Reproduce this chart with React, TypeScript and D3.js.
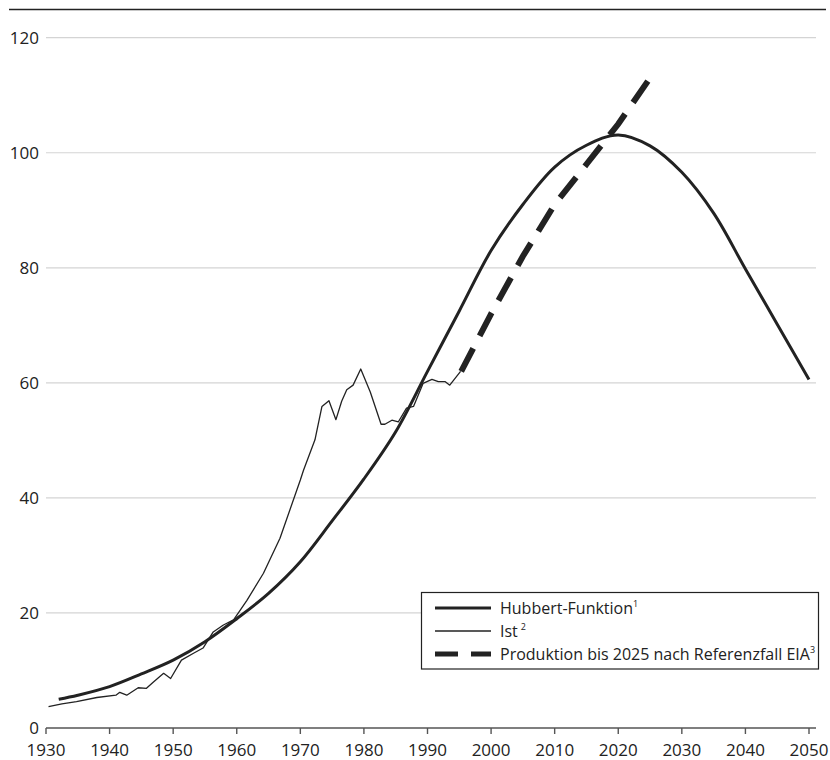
import { useMemo } from "react";
import * as d3 from "d3";

const WIDTH = 830;
const HEIGHT = 760;
const FONT = "'Open Sans', 'Noto Sans', sans-serif";

// Hubbert-Funktion (thick solid line)
const hubbertYears = [1932, 1935, 1940, 1945, 1950, 1955, 1960, 1965, 1970, 1975, 1980, 1985, 1990, 1995, 2000, 2005, 2010, 2015, 2020, 2025, 2030, 2035, 2040, 2045, 2050];
const hubbertValues = [5.0, 5.7, 7.2, 9.4, 11.8, 15.0, 19.0, 23.4, 28.9, 36.0, 43.3, 51.5, 62.0, 72.5, 83.0, 91.0, 97.5, 101.3, 103.1, 101.2, 96.6, 89.5, 79.8, 70.2, 60.6];

// Ist (thin line, actual production)
const istYears = [1930.4, 1932.5, 1934.8, 1938, 1941, 1941.6, 1942.7, 1944.5, 1945.8, 1946.9, 1948.5, 1949.6, 1951.3, 1953.2, 1954.7, 1956.3, 1957.9, 1959.5, 1961.6, 1964.2, 1966.8, 1970, 1970.5, 1972.3, 1973.4, 1974.5, 1975.6, 1976.5, 1977.3, 1978.3, 1979.5, 1981, 1982.7, 1983.3, 1984.4, 1985.4, 1986.7, 1987.8, 1989.3, 1990.7, 1991.7, 1992.8, 1993.5, 1995.2];
const istValues = [3.7, 4.2, 4.6, 5.3, 5.7, 6.2, 5.7, 7.0, 6.9, 8.0, 9.5, 8.6, 11.8, 13.0, 13.9, 16.7, 17.9, 18.8, 22.2, 26.9, 33.0, 43.1, 44.8, 50.1, 55.9, 56.9, 53.6, 56.8, 58.8, 59.6, 62.4, 58.4, 52.8, 52.8, 53.5, 53.2, 55.6, 55.9, 59.9, 60.6, 60.2, 60.2, 59.6, 62.0];

// Produktion bis 2025 nach Referenzfall EIA (thick dashed line)
const eiaYears = [1995.3, 2000, 2005, 2010, 2015, 2020, 2025];
const eiaValues = [62.0, 72.0, 82.0, 91.0, 98.0, 105.0, 113.0];

const yTicks = [0, 20, 40, 60, 80, 100, 120];
const xTicks = [1930, 1940, 1950, 1960, 1970, 1980, 1990, 2000, 2010, 2020, 2030, 2040, 2050];

const toPoints = (xs: number[], ys: number[]) => xs.map((x, i) => [x, ys[i]] as [number, number]);

export default function App() {
  const xScale = useMemo(() => d3.scaleLinear().domain([1930, 2050]).range([46, 809]), []);
  const yScale = useMemo(() => d3.scaleLinear().domain([0, 120]).range([728, 37.7]), []);

  const line = d3
    .line<[number, number]>()
    .x((d) => xScale(d[0]))
    .y((d) => yScale(d[1]));

  const smooth = d3
    .line<[number, number]>()
    .x((d) => xScale(d[0]))
    .y((d) => yScale(d[1]))
    .curve(d3.curveCatmullRom.alpha(0.5));

  const hubbertPath = smooth(toPoints(hubbertYears, hubbertValues)) || "";
  const istPath = line(toPoints(istYears, istValues)) || "";
  const eiaPath = line(toPoints(eiaYears, eiaValues)) || "";

  const [x0, x1] = [46, 816];

  return (
    <div style={{ position: "absolute", left: 0, top: 0 }}>
      <svg width={WIDTH} height={HEIGHT} style={{ display: "block", background: "#fff" }} fontFamily={FONT}>
        {/* top rule */}
        <line x1={9} x2={826} y1={9.5} y2={9.5} stroke="#222" strokeWidth={1.6} />

        {/* grid + y labels */}
        {yTicks.map((t) => (
          <g key={t}>
            {t > 0 && <line x1={x0} x2={x1} y1={yScale(t)} y2={yScale(t)} stroke="#d4d4d4" strokeWidth={1.2} />}
            <text x={39} y={yScale(t)} dy="0.36em" textAnchor="end" fontSize={17} fill="#222">
              {t}
            </text>
          </g>
        ))}

        {/* x axis */}
        <line x1={x0} x2={x1} y1={728} y2={728} stroke="#555" strokeWidth={1.6} />
        {xTicks.map((t) => (
          <g key={t}>
            <line x1={xScale(t)} x2={xScale(t)} y1={728} y2={734} stroke="#555" strokeWidth={1.4} />
            <text x={xScale(t)} y={756} textAnchor="middle" fontSize={17} fill="#222">
              {t}
            </text>
          </g>
        ))}

        {/* series */}
        <path d={istPath} fill="none" stroke="#222" strokeWidth={1.3} strokeLinejoin="round" />
        <path d={hubbertPath} fill="none" stroke="#222" strokeWidth={3} strokeLinejoin="round" />
        <path d={eiaPath} fill="none" stroke="#222" strokeWidth={6} strokeDasharray="26 14" />

        {/* legend */}
        <g>
          <rect x={421.5} y={592.5} width={397} height={76.5} fill="#fff" stroke="#222" strokeWidth={1.2} />
          <line x1={435} x2={491} y1={608} y2={608} stroke="#222" strokeWidth={3} />
          <line x1={435} x2={491} y1={631} y2={631} stroke="#222" strokeWidth={1.3} />
          <line x1={435} x2={491} y1={654} y2={654} stroke="#222" strokeWidth={5} strokeDasharray="23 13" />
          <text x={500} y={608} dy="0.36em" fontSize={16} fill="#222">
            Hubbert-Funktion<tspan fontSize={9} dy="-7">1</tspan>
          </text>
          <text x={500} y={631} dy="0.36em" fontSize={16} fill="#222">
            Ist<tspan fontSize={9} dx="3" dy="-7">2</tspan>
          </text>
          <text x={500} y={654} dy="0.36em" fontSize={16} fill="#222">
            Produktion bis 2025 nach Referenzfall EIA<tspan fontSize={9} dy="-7">3</tspan>
          </text>
        </g>
      </svg>
    </div>
  );
}
